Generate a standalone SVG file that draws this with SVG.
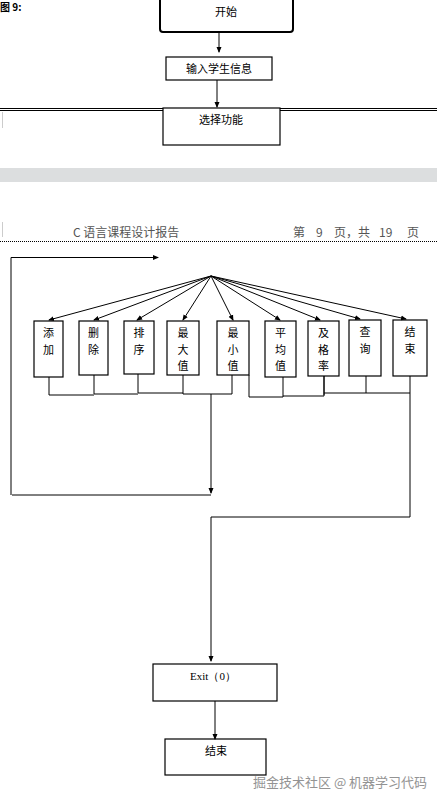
<svg xmlns="http://www.w3.org/2000/svg" width="437" height="803" viewBox="0 0 437 803">
<defs>
<marker id="ah" markerWidth="6" markerHeight="6" refX="5" refY="3" orient="auto" markerUnits="userSpaceOnUse">
<path d="M0,0.5 L6,3 L0,5.5 Z" fill="#000"/>
</marker>
</defs>
<style>
.box{fill:#fff;stroke:#000;stroke-width:1.2}
.t{font-family:"Noto Sans CJK SC","Liberation Sans",sans-serif;font-size:11px;fill:#000;text-anchor:middle}
.c{fill:none;stroke:#000;stroke-width:1}
.hd{font-family:"Noto Sans CJK SC","Liberation Serif",serif;font-size:12px;fill:#555}
</style>
<rect width="437" height="803" fill="#fff"/>
<g id="page">
<text x="0" y="11" font-family="Noto Sans CJK SC, sans-serif" font-size="10" font-weight="bold" fill="#000">图 9:</text>
<line x1="0" y1="108.5" x2="437" y2="108.5" stroke="#000" stroke-width="1"/>
<line x1="0" y1="110.5" x2="437" y2="110.5" stroke="#000" stroke-width="1"/>
<line x1="2.5" y1="112" x2="2.5" y2="128" stroke="#ccc" stroke-width="1"/>
<rect x="0" y="168" width="437" height="14" fill="#dcdedf"/>
<line x1="2.5" y1="222" x2="2.5" y2="237" stroke="#ccc" stroke-width="1"/>
<text class="hd" x="73" y="237">C 语言课程设计报告</text>
<text class="hd" x="293" y="237">第</text>
<text class="hd" x="316" y="237" font-family="Liberation Serif, serif">9</text>
<text class="hd" x="334" y="237">页，共</text>
<text class="hd" x="379" y="237" font-family="Liberation Serif, serif">19</text>
<text class="hd" x="407" y="237">页</text>
<line x1="0" y1="241.5" x2="437" y2="241.5" stroke="#000" stroke-width="1" stroke-dasharray="1,1"/>
</g>
<g id="start">
<rect x="160" y="-3" width="133" height="35" rx="3" fill="#fff" stroke="#000" stroke-width="2"/>
<text class="t" x="226" y="16">开始</text>
</g>
<g id="input">
<rect class="box" x="166" y="57" width="106" height="23"/>
<text class="t" x="219" y="73">输入学生信息</text>
</g>
<g id="select">
<rect class="box" x="163" y="108" width="117" height="37"/>
<text class="t" x="221" y="124">选择功能</text>
</g>
<g id="b1"><rect class="box" x="34" y="321" width="29" height="56"/><text class="t" x="48.5" y="337">添</text><text class="t" x="48.5" y="354">加</text></g>
<g id="b2"><rect class="box" x="79" y="321" width="29" height="54"/><text class="t" x="93.5" y="337">删</text><text class="t" x="93.5" y="354">除</text></g>
<g id="b3"><rect class="box" x="124" y="321" width="30" height="53"/><text class="t" x="139" y="337">排</text><text class="t" x="139" y="354">序</text></g>
<g id="b4"><rect class="box" x="167" y="321" width="32" height="54"/><text class="t" x="183" y="337">最</text><text class="t" x="183" y="354">大</text><text class="t" x="183" y="370">值</text></g>
<g id="b5"><rect class="box" x="217" y="321" width="32" height="54"/><text class="t" x="233" y="337">最</text><text class="t" x="233" y="354">小</text><text class="t" x="233" y="370">值</text></g>
<g id="b6"><rect class="box" x="265" y="321" width="31" height="56"/><text class="t" x="280.5" y="337">平</text><text class="t" x="280.5" y="354">均</text><text class="t" x="280.5" y="370">值</text></g>
<g id="b7"><rect class="box" x="308" y="321" width="31" height="55"/><text class="t" x="323.5" y="337">及</text><text class="t" x="323.5" y="354">格</text><text class="t" x="323.5" y="370">率</text></g>
<g id="b8"><rect class="box" x="349" y="320" width="32" height="56"/><text class="t" x="365" y="336">查</text><text class="t" x="365" y="353">询</text></g>
<g id="b9"><rect class="box" x="393" y="320" width="34" height="56"/><text class="t" x="410" y="336">结</text><text class="t" x="410" y="353">束</text></g>
<g id="exit">
<rect class="box" x="153" y="664" width="124" height="37"/>
<text x="213" y="680" font-family="Liberation Serif, serif" font-size="11" text-anchor="middle">Exit（0）</text>
</g>
<g id="end">
<rect class="box" x="165" y="739" width="101" height="36"/>
<text class="t" x="216" y="755">结束</text>
</g>
<g id="connectors">
<line class="c" x1="219" y1="32" x2="219" y2="52" marker-end="url(#ah)"/>
<line class="c" x1="217" y1="80" x2="217" y2="107" marker-end="url(#ah)"/>
<line class="c" x1="211" y1="276" x2="49" y2="320" marker-end="url(#ah)"/>
<line class="c" x1="211" y1="276" x2="94" y2="320" marker-end="url(#ah)"/>
<line class="c" x1="211" y1="276" x2="137" y2="320" marker-end="url(#ah)"/>
<line class="c" x1="211" y1="276" x2="183" y2="320" marker-end="url(#ah)"/>
<line class="c" x1="211" y1="276" x2="233" y2="320" marker-end="url(#ah)"/>
<line class="c" x1="211" y1="276" x2="280" y2="320" marker-end="url(#ah)"/>
<line class="c" x1="211" y1="276" x2="320" y2="320" marker-end="url(#ah)"/>
<line class="c" x1="211" y1="276" x2="360" y2="319" marker-end="url(#ah)"/>
<line class="c" x1="211" y1="276" x2="406" y2="319" marker-end="url(#ah)"/>
<polyline class="c" points="49,377 49,395 94,395"/>
<polyline class="c" points="94,375 94,394 138,394" stroke-width="1.6"/>
<polyline class="c" points="138,374 138,393 183,393"/>
<polyline class="c" points="183,375 183,394 232,394 232,375"/>
<line class="c" x1="211" y1="394" x2="211" y2="493" marker-end="url(#ah)"/>
<polyline class="c" points="12,495 211,495"/>
<polyline class="c" points="11,495 11,257.5 158,257.5" marker-end="url(#ah)"/>
<polyline class="c" points="249,375 249,397 283,397 283,377"/>
<polyline class="c" points="283,396 324,396 324,376"/>
<line class="c" x1="324" y1="376" x2="324" y2="395" stroke-width="1.8"/>
<polyline class="c" points="324,393 366,393 366,376"/>
<polyline class="c" points="366,393 410,393"/>
<polyline class="c" points="410,376 410,517 211,517 211,661" stroke="#333" marker-end="url(#ah)"/>
<line class="c" x1="215" y1="701" x2="215" y2="739" stroke="#333" marker-end="url(#ah)"/>
</g>
<text x="253" y="787" font-family="Noto Sans CJK SC, sans-serif" font-size="13" fill="#888" opacity="0.9">掘金技术社区 @ 机器学习代码</text>
</svg>
